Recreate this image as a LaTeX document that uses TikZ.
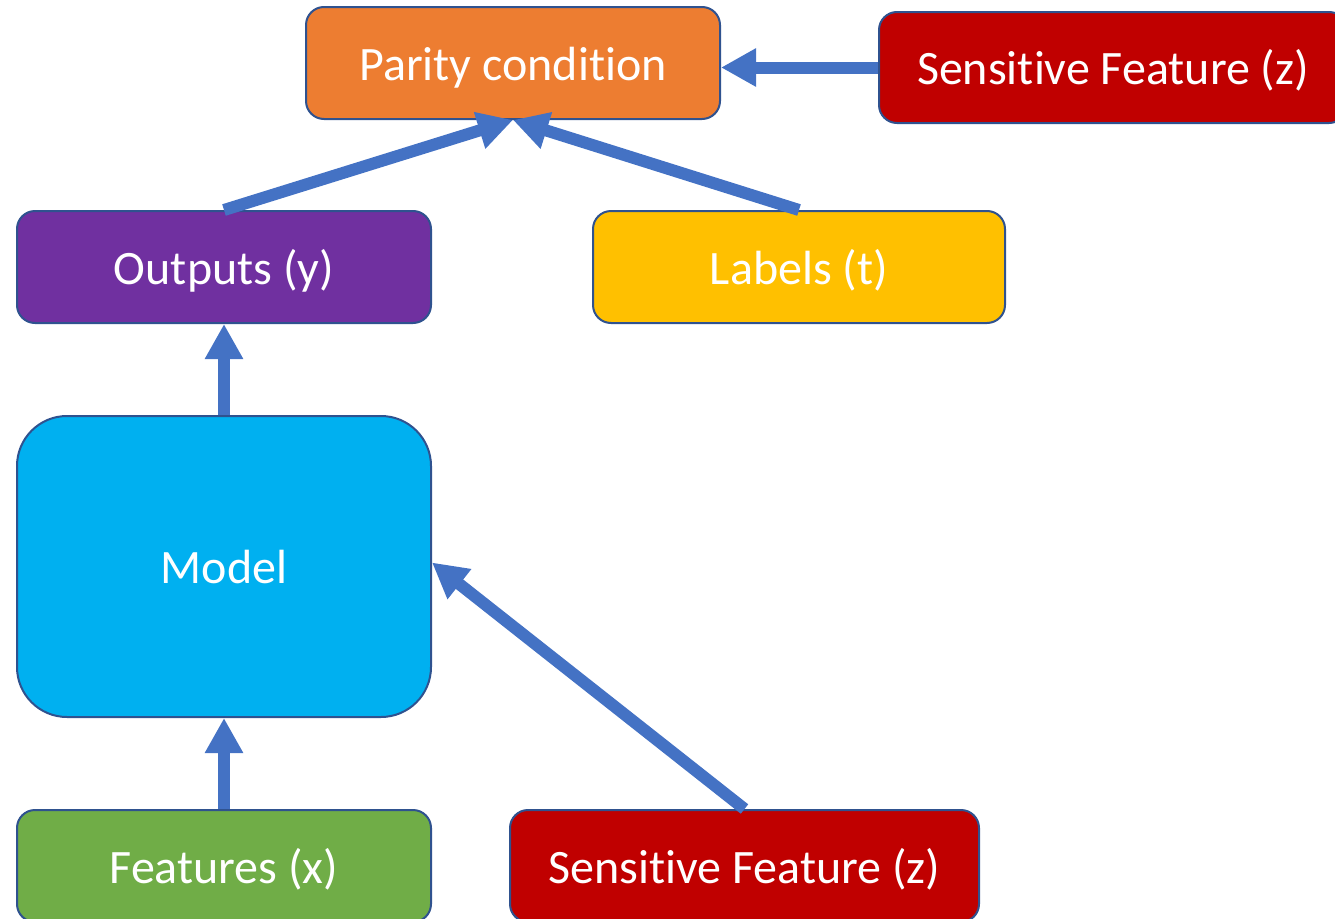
\documentclass[tikz,border=0pt]{standalone}
\usepackage{fontspec}
\setmainfont{Carlito}[Ligatures=NoCommon]
\usetikzlibrary{arrows.meta}
\definecolor{cOrange}{HTML}{ED7D31}
\definecolor{cRed}{HTML}{C00000}
\definecolor{cPurple}{HTML}{7030A0}
\definecolor{cGold}{HTML}{FFC000}
\definecolor{cCyan}{HTML}{00B0F0}
\definecolor{cGreen}{HTML}{70AD47}
\definecolor{cArrow}{HTML}{4472C4}
\definecolor{cBorder}{HTML}{2F528F}
\tikzset{
  box/.style={draw=cBorder, line width=2pt, rounded corners=18pt, text=white,
    font=\fontsize{48}{57}\selectfont, inner sep=0pt, minimum height=112pt,
    text height=40pt, text depth=6pt},
  flow/.style={draw=cArrow, line width=12pt,
    -{Triangle[width=36pt,length=35pt]}}
}
\begin{document}
\begin{tikzpicture}[x=1pt,y=-1pt]
\useasboundingbox (0,0) rectangle (1335,918);
\clip (0,0) rectangle (1335,918);
\node[box, fill=cOrange, minimum width=414pt] (parity) at (513,63) {Parity condition};
\node[box, fill=cRed, minimum width=468pt, minimum height=111pt] (sztop) at (1113,67.5) {Sensitive Feature (z)};
\node[box, fill=cPurple, minimum width=414pt] (outputs) at (224,267) {Outputs (y)};
\node[box, fill=cGold, minimum width=412pt] (labels) at (799,267) {Labels (t)};
\node[box, fill=cCyan, minimum width=414pt, minimum height=301pt, rounded corners=50pt] (model) at (224,566.5) {Model};
\node[box, fill=cGreen, minimum width=414pt] (features) at (224,866) {Features (x)};
\node[box, fill=cRed, minimum width=469pt] (szbot) at (744.5,866) {Sensitive Feature (z)};
\draw[flow] (sztop.west) -- (sztop.west -| parity.east);
\draw[flow] (outputs.north) -- (parity.south);
\draw[flow] (labels.north) -- (parity.south);
\draw[flow] (model.north) -- (outputs.south);
\draw[flow] (features.north) -- (model.south);
\draw[flow] (szbot.north) -- ([yshift=4pt]model.east);
\end{tikzpicture}
\end{document}
